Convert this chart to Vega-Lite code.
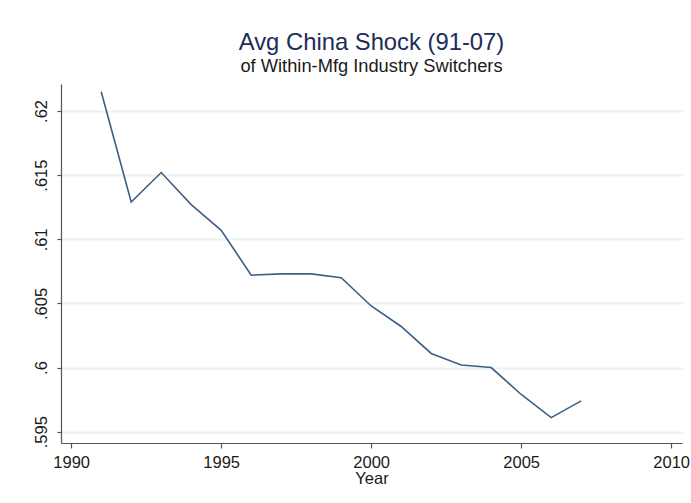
{
  "$schema": "https://vega.github.io/schema/vega-lite/v6.json",
  "autosize": {"type": "none"},
  "width": 621,
  "height": 359,
  "padding": {"left": 61, "top": 84, "right": 9, "bottom": 60},
  "background": "white",
  "config": {
    "font": "Liberation Sans",
    "view": {"stroke": null}
  },
  "title": {
    "text": "Avg China Shock (91-07)",
    "subtitle": "of Within-Mfg Industry Switchers",
    "anchor": "middle",
    "frame": "group",
    "font": "Liberation Sans",
    "fontSize": 23.8,
    "fontWeight": "normal",
    "color": "#1e2c58",
    "subtitleFont": "Liberation Sans",
    "subtitleFontSize": 18.3,
    "subtitleColor": "#1a1a1a",
    "subtitlePadding": 3,
    "offset": 9
  },
  "data": {
    "values": [
      {"year": 1991, "shock": 0.6215},
      {"year": 1992, "shock": 0.6129},
      {"year": 1993, "shock": 0.6152},
      {"year": 1994, "shock": 0.6127},
      {"year": 1995, "shock": 0.6107},
      {"year": 1996, "shock": 0.6072},
      {"year": 1997, "shock": 0.6073},
      {"year": 1998, "shock": 0.6073},
      {"year": 1999, "shock": 0.6070},
      {"year": 2000, "shock": 0.6048},
      {"year": 2001, "shock": 0.6032},
      {"year": 2002, "shock": 0.6011},
      {"year": 2003, "shock": 0.6002},
      {"year": 2004, "shock": 0.6000},
      {"year": 2005, "shock": 0.5979},
      {"year": 2006, "shock": 0.5961},
      {"year": 2007, "shock": 0.5974}
    ]
  },
  "mark": {"type": "line", "color": "#3d5f84", "strokeWidth": 1.6},
  "encoding": {
    "x": {
      "field": "year",
      "type": "quantitative",
      "title": "Year",
      "scale": {"domain": [1989.66, 2010.36], "nice": false, "zero": false},
      "axis": {
        "values": [1990, 1995, 2000, 2005, 2010],
        "format": "d",
        "grid": false,
        "domainColor": "#555555",
        "domainWidth": 1.2,
        "tickColor": "#555555",
        "tickWidth": 1.2,
        "tickSize": 5,
        "labelFont": "Liberation Sans",
        "labelFontSize": 16.5,
        "labelColor": "#1a1a1a",
        "labelPadding": 6,
        "labelFlush": false,
        "labelOverlap": false,
        "titleFont": "Liberation Sans",
        "titleFontSize": 16.5,
        "titleFontWeight": "normal",
        "titleColor": "#1a1a1a",
        "titlePadding": 0
      }
    },
    "y": {
      "field": "shock",
      "type": "quantitative",
      "title": null,
      "scale": {"domain": [0.59412, 0.6221], "nice": false, "zero": false},
      "axis": {
        "values": [0.595, 0.6, 0.605, 0.61, 0.615, 0.62],
        "labelExpr": "replace(format(datum.value, '.3~f'), /^0/, '')",
        "grid": true,
        "gridColor": "#eaf2f3",
        "gridWidth": 2,
        "domainColor": "#555555",
        "domainWidth": 1.2,
        "tickColor": "#555555",
        "tickWidth": 1.2,
        "tickSize": 4,
        "labelAngle": -90,
        "labelAlign": "center",
        "labelBaseline": "bottom",
        "labelFont": "Liberation Sans",
        "labelFontSize": 16.5,
        "labelColor": "#1a1a1a",
        "labelPadding": 8,
        "labelFlush": false,
        "labelOverlap": false
      }
    }
  }
}
